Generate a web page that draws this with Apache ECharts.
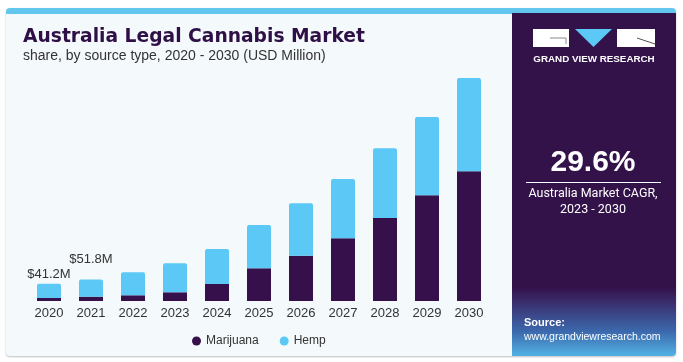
<!DOCTYPE html>
<html>
<head>
<meta charset="utf-8">
<script src="https://cdn.jsdelivr.net/npm/echarts@6/dist/echarts.min.js"></script>
<style>
html,body{margin:0;padding:0;background:#ffffff;}
#chart{width:683px;height:362px;}
</style>
</head>
<body>
<div id="chart"></div>
<script>
var years = ['2020','2021','2022','2023','2024','2025','2026','2027','2028','2029','2030'];
var marijuana = [7.2, 10.3, 13.7, 20.9, 40.8, 78.5, 108.7, 150.5, 199.2, 253.7, 311.3];
var hemp = [34.0, 41.5, 55.2, 69.6, 84.0, 103.9, 125.8, 142.3, 167.3, 187.9, 223.9];
var totalLabels = ['$41.2M', '$51.8M'];
var cagrText = '29.6%';
var cagrCaption = ['Australia Market CAGR,', '2023 - 2030'];

var MAR = '#35104a', HEMP = '#5bc8f5', PURPLE = '#33124a';
var labelOffsets = [[0, 2], [0, -8]];

var hempData = hemp.map(function (v, i) {
  var d = { value: v };
  if (i < totalLabels.length) {
    d.label = {
      show: true, position: 'top', formatter: totalLabels[i],
      offset: labelOffsets[i], color: '#333', fontSize: 13,
      fontFamily: 'Liberation Sans, Arial, sans-serif'
    };
  }
  return d;
});

var chart = echarts.init(document.getElementById('chart'), null, {renderer: 'canvas'});
chart.setOption({
  animation: false,
  backgroundColor: '#ffffff',
  graphic: [
    { type: 'rect', z: -10, shape: {x: 6, y: 8, width: 670, height: 348, r: 4},
      style: {fill: '#f4f9fc', shadowBlur: 2, shadowColor: 'rgba(0,0,0,0.25)', shadowOffsetY: 1} },
    { type: 'rect', z: -9, shape: {x: 6, y: 8, width: 670, height: 6, r: [4, 4, 0, 0]},
      style: {fill: '#62c6ee'} },
    { type: 'rect', z: -8, shape: {x: 512, y: 13, width: 164, height: 343, r: [0, 0, 4, 0]},
      style: {fill: new echarts.graphic.LinearGradient(0, 0, 0, 1, [
        {offset: 0, color: PURPLE}, {offset: 0.8, color: PURPLE},
        {offset: 0.84, color: '#3a2b6a'}, {offset: 0.93, color: '#3c6aae'}, {offset: 1, color: '#52b2e4'}])} },
    // logo
    { type: 'rect', shape: {x: 533, y: 29, width: 36, height: 18}, style: {fill: '#ffffff'} },
    { type: 'polyline', shape: {points: [[550, 38], [566, 38], [566, 44]]}, style: {stroke: '#888', lineWidth: 1, fill: null} },
    { type: 'polygon', shape: {points: [[575, 29], [612, 29], [593.5, 47]]}, style: {fill: '#5bc8f5'} },
    { type: 'rect', shape: {x: 617, y: 29, width: 38, height: 18}, style: {fill: '#ffffff'} },
    { type: 'line', shape: {x1: 637, y1: 38, x2: 655, y2: 44}, style: {stroke: '#555', lineWidth: 1} },
    { type: 'text', style: {text: 'GRAND VIEW RESEARCH', x: 594, y: 59, align: 'center', verticalAlign: 'middle',
      fill: '#ffffff', font: 'bold 9.8px "Liberation Sans", Arial, sans-serif'} },
    // CAGR
    { type: 'text', style: {text: cagrText, x: 593, y: 163, align: 'center', verticalAlign: 'middle',
      fill: '#ffffff', font: 'bold 30px "Liberation Sans", Arial, sans-serif'} },
    { type: 'line', shape: {x1: 526, y1: 182.5, x2: 661, y2: 182.5}, style: {stroke: '#ffffff', lineWidth: 1} },
    { type: 'text', style: {text: cagrCaption[0], x: 593, y: 194, align: 'center', verticalAlign: 'middle',
      fill: '#ffffff', font: '12.5px Roboto, "Liberation Sans", Arial, sans-serif'} },
    { type: 'text', style: {text: cagrCaption[1], x: 593, y: 210, align: 'center', verticalAlign: 'middle',
      fill: '#ffffff', font: '12.5px Roboto, "Liberation Sans", Arial, sans-serif'} },
    // source
    { type: 'text', style: {text: 'Source:', x: 524, y: 323, align: 'left', verticalAlign: 'middle',
      fill: '#ffffff', font: 'bold 11px "Liberation Sans", Arial, sans-serif'} },
    { type: 'text', style: {text: 'www.grandviewresearch.com', x: 524, y: 337, align: 'left', verticalAlign: 'middle',
      fill: '#ffffff', font: '10.5px "Liberation Sans", Arial, sans-serif'} },
    // titles
    { type: 'text', style: {text: 'Australia Legal Cannabis Market', x: 23, y: 37, align: 'left', verticalAlign: 'middle',
      fill: '#2e0f46', font: 'bold 18.7px "DejaVu Sans", "Liberation Sans", Arial, sans-serif'} },
    { type: 'text', style: {text: 'share, by source type, 2020 - 2030 (USD Million)', x: 23, y: 56, align: 'left', verticalAlign: 'middle',
      fill: '#333333', font: '14px "Liberation Sans", Arial, sans-serif'} }
  ],
  grid: {left: 28, right: 193, top: 51, bottom: 61, containLabel: false},
  legend: {
    left: 187, top: 330, icon: 'circle', itemWidth: 9, itemHeight: 9, itemGap: 21,
    textStyle: {color: '#333', fontSize: 12, fontFamily: 'Liberation Sans, Arial, sans-serif'},
    data: ['Marijuana', 'Hemp']
  },
  xAxis: {
    type: 'category', data: years,
    axisLine: {show: false}, axisTick: {show: false},
    axisLabel: {color: '#333', fontSize: 13, margin: 6, fontFamily: 'Liberation Sans, Arial, sans-serif'}
  },
  yAxis: {
    type: 'value', min: 0, max: 600, show: false, splitLine: {show: false}
  },
  series: [
    {name: 'Marijuana', type: 'bar', stack: 'total', data: marijuana, barWidth: 24,
      itemStyle: {color: MAR}},
    {name: 'Hemp', type: 'bar', stack: 'total', data: hempData, barWidth: 24,
      itemStyle: {color: HEMP, borderRadius: [2, 2, 0, 0]}}
  ]
});
</script>
</body>
</html>
